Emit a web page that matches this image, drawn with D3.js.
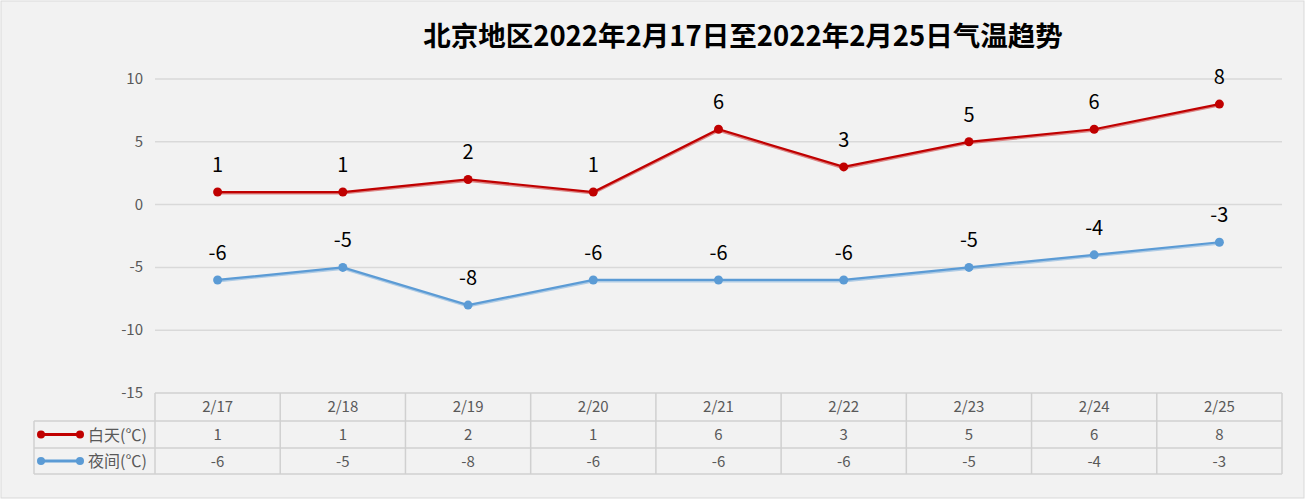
<!DOCTYPE html><html><head><meta charset="utf-8">
<script src="https://cdn.jsdelivr.net/npm/d3@7/dist/d3.min.js"></script>
<style>body{margin:0;background:#fff}</style></head><body>
<svg id="c" width="1305" height="500"></svg>
<script>
const categories=["2/17","2/18","2/19","2/20","2/21","2/22","2/23","2/24","2/25"];
const dayValues=[1,1,2,1,6,3,5,6,8];
const nightValues=[-6,-5,-8,-6,-6,-6,-5,-4,-3];
const yTicks=[10,5,0,-5,-10,-15];
const seriesNames=["白天(℃)","夜间(℃)"];
const seriesColors=["#c00000","#5b9bd5"];
const title="北京地区2022年2月17日至2022年2月25日气温趋势";
const svg=d3.select("#c");
const font="'Noto Sans CJK SC','Noto Sans',sans-serif";
svg.append("rect").attr("x",1).attr("y",1).attr("width",1303).attr("height",497).attr("fill","#f2f2f2").attr("stroke","#d9d9d9");
const L=155,R=1282;
const x=d3.scaleBand().domain(categories).range([L,R]);
const y=d3.scaleLinear().domain([-15,10]).range([393,79]);
svg.append("text").attr("x",743).attr("y",46).attr("text-anchor","middle").attr("font-family",font).attr("font-weight","bold").attr("font-size",27.5).attr("fill","#000").text(title);
yTicks.forEach(t=>{
  if(t>-15) svg.append("line").attr("x1",L).attr("x2",R).attr("y1",y(t)).attr("y2",y(t)).attr("stroke","#d9d9d9").attr("stroke-width",1.5);
  svg.append("text").attr("x",143).attr("y",y(t)+5).attr("text-anchor","end").attr("font-family",font).attr("font-size",15).attr("fill","#595959").text(t);
});
const cx=d=>x(d)+x.bandwidth()/2;
[dayValues,nightValues].forEach((vals,i)=>{
  const pts=categories.map((c,j)=>[cx(c),y(vals[j])]);
  const ln=d3.line();
  svg.append("path").attr("d",ln(pts.map(p=>[p[0],p[1]+1.5]))).attr("fill","none").attr("stroke",seriesColors[i]).attr("stroke-opacity",0.45).attr("stroke-width",2);
  svg.append("path").attr("d",ln(pts)).attr("fill","none").attr("stroke",seriesColors[i]).attr("stroke-width",2.2);
  pts.forEach((p,j)=>{
    svg.append("circle").attr("cx",p[0]).attr("cy",p[1]).attr("r",4.5).attr("fill",seriesColors[i]);
    svg.append("text").attr("x",p[0]).attr("y",p[1]-20).attr("text-anchor","middle").attr("font-family",font).attr("font-size",20).attr("fill","#000").text(vals[j]);
  });
});
const rows=[393,421,448,474];
const g=svg.append("g").attr("stroke","#d0d0d0").attr("stroke-width",1.5);
g.append("line").attr("x1",L).attr("x2",R).attr("y1",rows[0]).attr("y2",rows[0]);
[1,2,3].forEach(k=>g.append("line").attr("x1",34).attr("x2",R).attr("y1",rows[k]).attr("y2",rows[k]));
categories.forEach(c=>g.append("line").attr("x1",x(c)).attr("x2",x(c)).attr("y1",rows[0]).attr("y2",rows[3]));
g.append("line").attr("x1",R).attr("x2",R).attr("y1",rows[0]).attr("y2",rows[3]);
g.append("line").attr("x1",34).attr("x2",34).attr("y1",rows[1]).attr("y2",rows[3]);
const tf=(xx,yy,t,a)=>svg.append("text").attr("x",xx).attr("y",yy).attr("text-anchor",a||"middle").attr("font-family",font).attr("font-size",15).attr("fill","#595959").text(t);
categories.forEach((c,j)=>{
  tf(cx(c),rows[0]+19,c);
  tf(cx(c),rows[1]+19,dayValues[j]);
  tf(cx(c),rows[2]+19,nightValues[j]);
});
seriesNames.forEach((n,i)=>{
  const yy=(rows[i+1]+rows[i+2])/2;
  svg.append("line").attr("x1",41).attr("x2",80).attr("y1",yy).attr("y2",yy).attr("stroke",seriesColors[i]).attr("stroke-width",3);
  [41,80].forEach(px=>svg.append("circle").attr("cx",px).attr("cy",yy).attr("r",4).attr("fill",seriesColors[i]));
  svg.append("text").attr("x",88).attr("y",yy+6).attr("font-family",font).attr("font-size",16).attr("fill","#595959").text(n);
});
</script></body></html>
